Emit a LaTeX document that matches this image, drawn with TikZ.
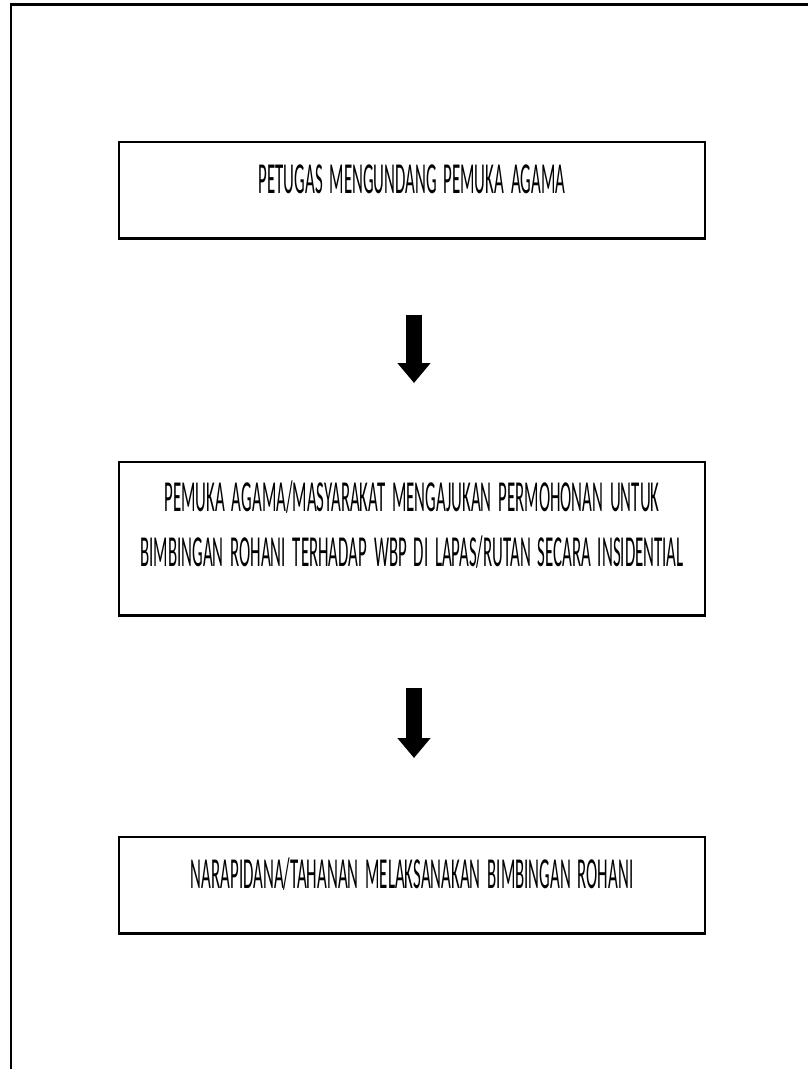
\documentclass[tikz,border=0pt]{standalone}
\usepackage{fontspec}
\usepackage{tikz}
\usetikzlibrary{arrows.meta}
\newfontfamily\boxfont[FakeStretch=0.38, WordSpace=1.8]{Carlito}

\begin{document}
\begin{tikzpicture}[x=1pt, y=-1pt,
    flowbox/.style={rectangle, draw, line width=1.5pt, minimum width=586pt, inner sep=0pt,
        align=center, font=\boxfont\fontsize{44.3}{55}\selectfont, text height=28pt},
    bigarrow/.style={-{Triangle[width=32pt, length=20pt]}, line width=16.5pt}]
    \useasboundingbox (0,0) rectangle (808,1069);

    % frame of the page
    \draw[line width=3pt] (10,4.5) -- (808,4.5);
    \draw[line width=1.5pt] (11,4) -- (11,1069);

    \node[flowbox, anchor=north, minimum height=96pt, text depth=20pt] (undang) at (412,141) {PETUGAS MENGUNDANG PEMUKA AGAMA};
    \node[flowbox, anchor=north, minimum height=153pt, text height=83pt, text depth=26pt] (mohon) at (412,461) {PEMUKA AGAMA/MASYARAKAT MENGAJUKAN PERMOHONAN UNTUK\\BIMBINGAN ROHANI TERHADAP WBP DI LAPAS/RUTAN SECARA INSIDENTIAL};
    \node[flowbox, anchor=north, minimum height=96pt, text depth=20pt] (laksana) at (412,836) {NARAPIDANA/TAHANAN MELAKSANAKAN BIMBINGAN ROHANI};

    % heavier bottom edges
    \foreach \b in {undang, mohon, laksana}
        \draw[line width=3pt] (\b.south west) -- (\b.south east);

    \draw[bigarrow, shorten <=76pt, shorten >=78pt] ([xshift=2pt]undang.south) -- ([xshift=2pt]mohon.north);
    \draw[bigarrow, shorten <=72pt, shorten >=78pt] ([xshift=2pt]mohon.south) -- ([xshift=2pt]laksana.north);
\end{tikzpicture}
\end{document}
